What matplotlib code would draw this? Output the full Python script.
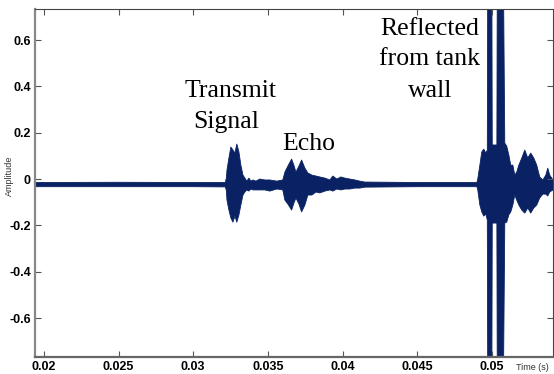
import matplotlib
matplotlib.use("Agg")
import matplotlib.pyplot as plt

time_s = [0.01940, 0.02500, 0.03000, 0.03215, 0.03222, 0.03226, 0.03239, 0.03252,
          0.03266, 0.03279, 0.03292, 0.03306, 0.03319, 0.03333, 0.03346, 0.03359,
          0.03373, 0.03386, 0.03400, 0.03420, 0.03446, 0.03480, 0.03513, 0.03560,
          0.03600, 0.03614, 0.03634, 0.03659, 0.03674, 0.03688, 0.03708, 0.03726,
          0.03748, 0.03768, 0.03795, 0.03822, 0.03848, 0.03882, 0.03915, 0.03935,
          0.03962, 0.03989, 0.04016, 0.04049, 0.04083, 0.04116, 0.04150, 0.04500,
          0.04900, 0.04906, 0.04920, 0.04933, 0.04946, 0.04960, 0.04970, 0.04973,
          0.05000, 0.05003, 0.05034, 0.05037, 0.05077, 0.05087, 0.05100, 0.05114,
          0.05127, 0.05141, 0.05154, 0.05167, 0.05181, 0.05201, 0.05221, 0.05241,
          0.05261, 0.05281, 0.05301, 0.05321, 0.05342, 0.05362, 0.05375, 0.05388,
          0.05410]
amp_upper = [-0.015, -0.014, -0.015, -0.015, 0.005, 0.039, 0.091, 0.138,
             0.125, 0.112, 0.151, 0.117, 0.060, 0.017, 0.004, -0.009,
             0.004, -0.009, -0.004, -0.009, 0.000, -0.004, -0.004, -0.009,
             -0.004, 0.030, 0.056, 0.086, 0.060, 0.030, 0.056, 0.082,
             0.047, 0.026, 0.017, 0.013, 0.009, 0.004, -0.004, 0.013,
             0.000, 0.009, 0.004, 0.000, -0.004, -0.009, -0.013, -0.015,
             -0.015, 0.000, 0.060, 0.117, 0.129, 0.112, 0.125, 0.950,
             0.950, 0.147, 0.147, 0.950, 0.950, 0.155, 0.142, 0.104,
             0.060, 0.060, 0.017, 0.030, 0.060, 0.091, 0.125, 0.091,
             0.112, 0.091, 0.060, 0.009, -0.004, 0.017, 0.047, 0.017,
             -0.004]
amp_lower = [-0.033, -0.033, -0.033, -0.034, -0.050, -0.091, -0.134, -0.168,
             -0.186, -0.160, -0.186, -0.155, -0.112, -0.069, -0.056, -0.047,
             -0.052, -0.043, -0.047, -0.047, -0.047, -0.047, -0.052, -0.043,
             -0.047, -0.091, -0.108, -0.134, -0.104, -0.082, -0.108, -0.142,
             -0.112, -0.069, -0.069, -0.056, -0.060, -0.052, -0.047, -0.052,
             -0.043, -0.047, -0.043, -0.043, -0.039, -0.039, -0.035, -0.033,
             -0.033, -0.047, -0.112, -0.142, -0.160, -0.151, -0.177, -0.950,
             -0.950, -0.190, -0.190, -0.950, -0.950, -0.190, -0.186, -0.155,
             -0.142, -0.112, -0.069, -0.091, -0.112, -0.134, -0.147, -0.125,
             -0.147, -0.125, -0.112, -0.082, -0.065, -0.065, -0.073, -0.056,
             -0.047]

x_ticks = [0.02, 0.025, 0.03, 0.035, 0.04, 0.045, 0.05]
x_tick_labels = ["0.02", "0.025", "0.03", "0.035", "0.04", "0.045", "0.05"]
y_ticks = [-0.6, -0.4, -0.2, 0, 0.2, 0.4, 0.6]
y_tick_labels = ["-0.6", "-0.4", "-0.2", "0", "0.2", "0.4", "0.6"]

# annotation lines: text, time, amplitude of baseline
notes = ["Transmit", "Signal", "Echo", "Reflected", "from tank", "wall"]
note_t = [0.03249, 0.03222, 0.03775, 0.04585, 0.04585, 0.04588]
note_a = [0.354, 0.220, 0.125, 0.621, 0.492, 0.354]

trace_color = "#0a2263"

fig = plt.figure(figsize=(5.54, 3.74), dpi=100)
ax = fig.add_axes([0.0632, 0.0455, 0.9350, 0.9305])

ax.fill_between(time_s, amp_lower, amp_upper, color=trace_color, linewidth=0.6,
                edgecolor=trace_color)

ax.set_xlim(0.0194, 0.0541)
ax.set_ylim(-0.768, 0.734)

ax.set_xticks(x_ticks)
ax.set_xticklabels(x_tick_labels, fontsize=9, fontweight="bold", family="Liberation Sans")
ax.set_yticks(y_ticks)
ax.set_yticklabels(y_tick_labels, fontsize=9, fontweight="bold", family="Liberation Sans")
ax.tick_params(axis="both", direction="in", length=4, width=0.8, color="#555555",
               top=True, right=True, pad=3)

ax.spines["left"].set_color("#888888")
ax.spines["left"].set_linewidth(1.6)
ax.spines["bottom"].set_color("#666666")
ax.spines["bottom"].set_linewidth(1.6)
ax.spines["top"].set_color("#444444")
ax.spines["top"].set_linewidth(0.8)
ax.spines["right"].set_color("#444444")
ax.spines["right"].set_linewidth(0.8)

ax.set_ylabel("Amplitude", fontsize=6.5, family="Liberation Sans", color="#333333")
ax.yaxis.set_label_coords(-0.040, 0.52)
ax.text(0.05275, -0.812, "Time (s)", fontsize=6.5, family="Liberation Sans",
        color="#333333", ha="center", va="center")

for txt, t, a in zip(notes, note_t, note_a):
    ax.text(t, a, txt, fontsize=18.5, family="Liberation Serif", ha="center",
            va="baseline", color="black")

fig.savefig("out.png", dpi=100)
